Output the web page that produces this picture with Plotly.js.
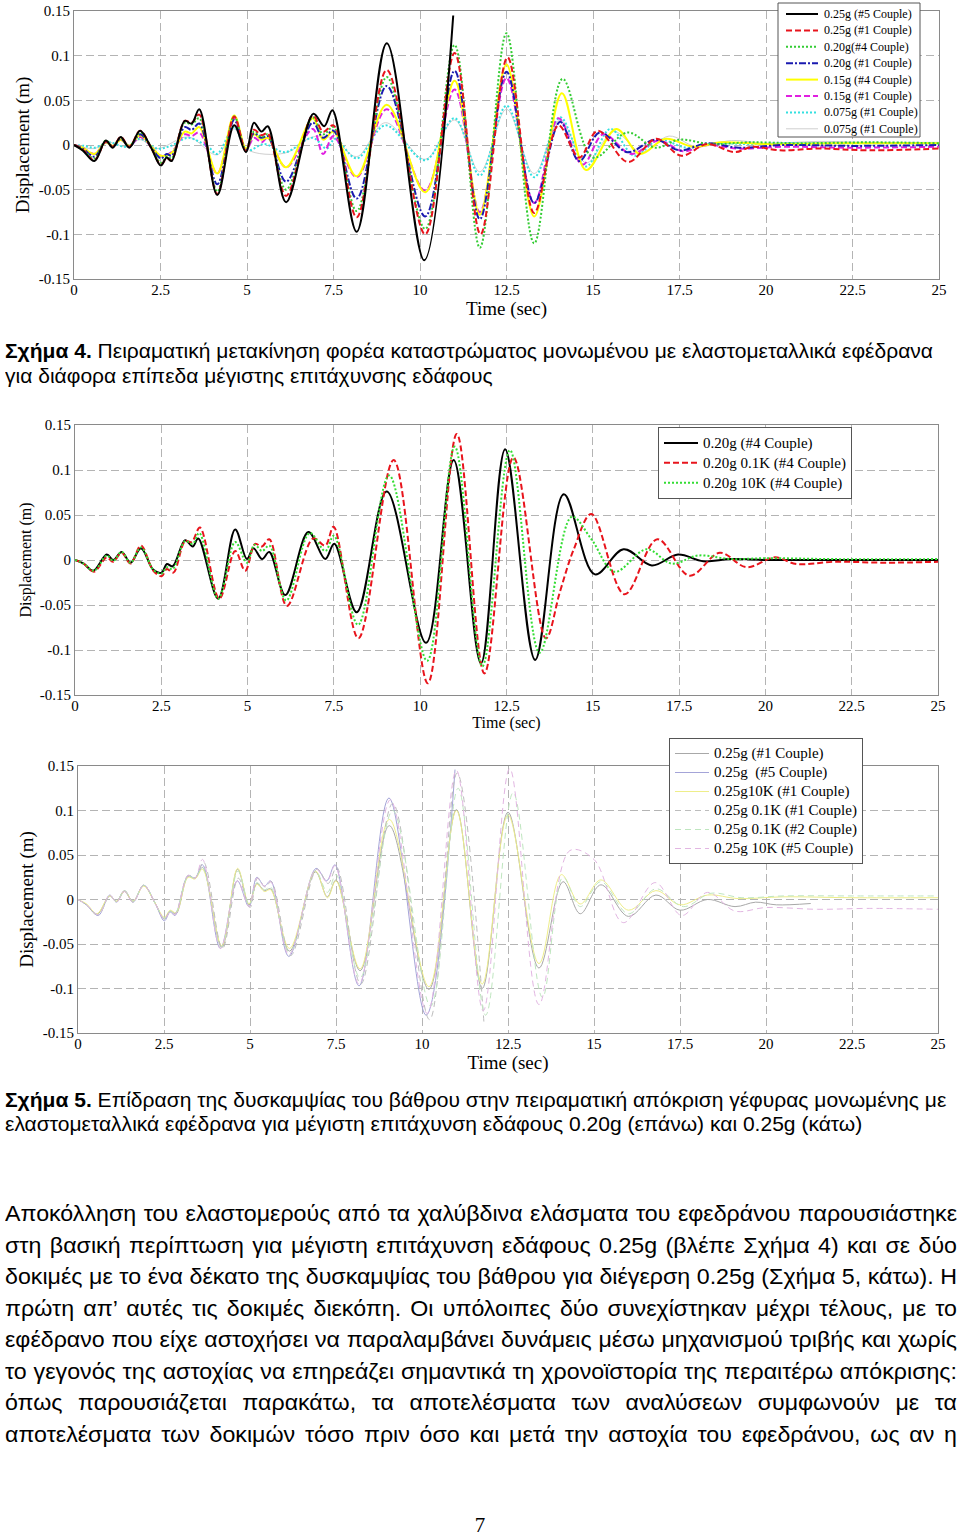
<!DOCTYPE html>
<html><head><meta charset="utf-8">
<script src="https://cdn.plot.ly/plotly-3.0.1.min.js"></script>
<style>
body{margin:0;padding:0;background:#fff;width:960px;height:1537px;overflow:hidden;position:relative;}
#chart{position:absolute;left:0;top:0;width:960px;height:1537px;}
.ln{position:absolute;font-family:"Liberation Sans",Arial,sans-serif;color:#000;white-space:nowrap;transform-origin:0 0;}
.just{text-align:justify;text-align-last:justify;white-space:normal;}
</style></head><body>
<div id="chart"></div>
<div id="texts"></div>
<script>
// ---------- Figure 4 (top) : 0.25g .. 0.075g ----------
const f4_black_t = [0,0.25,0.59,0.92,1.12,1.35,1.6,1.91,2.24,2.51,2.68,2.82,3.2,3.4,3.62,4.14,4.63,4.97,5.2,5.42,5.6,6.13,6.92,7.23,7.47,8.17,9.04,10.12,10.96];
const f4_black_y = [0,-0.006,-0.018,0.005,-0.003,0.009,-0.003,0.016,-0.004,-0.023,-0.014,-0.018,0.027,0.024,0.040,-0.056,0.022,-0.008,0.025,0.015,0.021,-0.064,0.035,0.021,0.039,-0.097,0.114,-0.129,0.145];

const f4_red_t = [0,0.25,0.59,0.92,1.12,1.35,1.6,1.91,2.24,2.51,2.68,2.82,3.2,3.4,3.62,4.14,4.63,4.97,5.2,5.42,5.6,6.13,6.9,7.2,7.5,8.17,9.04,10.15,11.0,11.75,12.53,13.3,14.0,14.6,15.14,16.01,16.83,17.55,18.3,19.1,19.6,20.4,21.5,23,25];
const f4_red_y = [0,-0.005,-0.017,0.004,-0.002,0.009,-0.002,0.016,-0.004,-0.022,-0.015,-0.017,0.027,0.025,0.034,-0.055,0.032,-0.007,0.017,0.011,0.013,-0.057,0.033,0.015,0.022,-0.081,0.084,-0.100,0.103,-0.100,0.098,-0.076,0.022,-0.014,0.016,-0.019,0.007,-0.012,0.001,-0.008,-0.002,-0.006,-0.004,-0.006,-0.004];

const f4_green_t = [0,0.25,0.59,0.92,1.12,1.35,1.6,1.91,2.24,2.51,2.68,2.82,3.2,3.4,3.62,4.14,4.63,4.97,5.2,5.42,5.6,6.13,6.9,7.2,7.5,8.17,9.04,10.15,11.0,11.73,12.5,13.3,14.12,15.0,16.0,16.8,17.5,18.4,19.5,21,23,25];
const f4_green_y = [0,-0.005,-0.015,0.005,-0.002,0.008,-0.002,0.014,-0.003,-0.020,-0.013,-0.015,0.025,0.023,0.030,-0.052,0.032,-0.006,0.015,0.009,0.012,-0.050,0.031,0.012,0.020,-0.074,0.076,-0.094,0.112,-0.115,0.125,-0.110,0.074,-0.014,0.014,-0.003,0.006,0.001,0.003,0.002,0.003,0.002];

const f4_blue_t = [0,0.25,0.59,0.92,1.12,1.35,1.6,1.91,2.24,2.51,2.68,2.82,3.2,3.4,3.62,4.14,4.63,4.97,5.2,5.42,5.6,6.13,6.9,7.2,7.5,8.17,9.04,10.15,11.0,11.73,12.5,13.3,14.05,14.6,15.2,16.0,16.8,17.5,18.3,19.2,20.5,22.5,25];
const f4_blue_y = [0,-0.004,-0.013,0.004,-0.002,0.007,-0.002,0.012,-0.003,-0.015,-0.010,-0.012,0.020,0.017,0.024,-0.044,0.028,-0.006,0.013,0.008,0.010,-0.041,0.025,0.008,0.016,-0.060,0.066,-0.080,0.083,-0.083,0.082,-0.065,0.026,-0.018,0.014,-0.008,0.006,-0.006,0.002,-0.003,0.000,-0.001,0.000];

const f4_yellow_t = [0,0.25,0.59,0.92,1.12,1.35,1.6,1.91,2.24,2.51,2.82,3.2,3.4,3.62,4.14,4.63,4.97,5.2,5.42,5.6,6.13,6.9,7.2,7.5,8.17,9.04,10.15,11.0,11.73,12.5,13.3,14.1,14.8,15.67,16.35,17.1,17.9,18.7,20,22,25];
const f4_yellow_y = [0,-0.003,-0.010,0.003,-0.001,0.006,-0.001,0.011,-0.002,-0.012,-0.009,0.015,0.013,0.020,-0.032,0.033,-0.004,0.012,0.006,0.008,-0.025,0.030,0.006,0.015,-0.035,0.045,-0.053,0.072,-0.078,0.090,-0.080,0.058,-0.028,0.018,-0.010,0.007,-0.002,0.003,0.001,0.002,0.002];

const f4_magenta_t = [0,0.25,0.59,0.92,1.12,1.35,1.6,1.91,2.24,2.51,2.82,3.2,3.4,3.62,4.14,4.63,4.97,5.2,5.42,5.6,6.13,6.9,7.2,7.5,8.17,9.04,10.15,11.0,11.73,12.5,13.3,14.0,14.7,15.3,16.1,16.9,17.6,18.3,19.2,20.5,22.5,25];
const f4_magenta_y = [0,-0.003,-0.010,0.003,-0.001,0.006,-0.001,0.009,-0.002,-0.012,-0.008,0.012,0.010,0.014,-0.032,0.030,-0.006,0.008,0.003,0.008,-0.025,0.018,-0.010,0.010,-0.036,0.040,-0.051,0.062,-0.075,0.075,-0.065,0.030,-0.022,0.012,-0.010,0.005,-0.007,0.000,-0.004,-0.002,-0.003,-0.002];

const f4_cyan_t = [0,0.3,0.59,1.0,1.5,1.91,2.4,2.8,3.3,3.9,4.14,4.63,5.0,5.5,6.1,6.9,7.3,7.55,8.17,9.0,10.15,11.0,11.73,12.5,13.3,14.05,14.8,15.5,16.2,16.9,17.7,18.5,19.5,21,23,25];
const f4_cyan_y = [0,-0.001,-0.003,0.003,-0.002,0.007,-0.004,-0.001,0.008,-0.003,-0.010,0.020,-0.006,0.001,-0.008,0.008,-0.004,0.007,-0.015,0.022,-0.017,0.030,-0.034,0.044,-0.036,0.031,-0.024,0.018,-0.012,0.006,-0.003,0.002,0.001,0.002,0.002,0.002];

const f4_gray_t = [0,0.59,1.0,1.5,1.91,2.4,3.3,4.14,4.63,5.0,6.1,6.9,7.5,8.17,9.0,10.15,11.0,11.73,12.5,13.3,14.05,14.8,15.6,16.4,17.2,18.0,19.0,20,21.5,23,25];
const f4_gray_y = [0,-0.004,0.003,-0.002,0.006,-0.004,0.009,-0.011,0.018,-0.005,-0.009,0.009,0.007,-0.013,0.025,-0.016,0.028,-0.030,0.040,-0.032,0.028,-0.020,0.015,-0.008,0.010,-0.002,0.005,0.002,0.004,0.003,0.003];

const f4_names = ["0.25g (#5 Couple)","0.25g (#1 Couple)","0.20g(#4 Couple)","0.20g (#1 Couple)","0.15g (#4 Couple)","0.15g (#1 Couple)","0.075g (#1 Couple)","0.075g (#1 Couple)"];

// ---------- Figure 5 (middle) : 0.20g stiffness ----------
const f5a_base_t = [0,0.25,0.53,0.92,1.11,1.35,1.61,1.91,2.27,2.51,2.66,2.83,3.19,3.41,3.57,4.15,4.64,4.98,5.17,5.42,5.63,6.09,6.76,7.25,7.51,8.16,9.03,10.17,10.97,11.76,12.46,13.33,14.16,15.06,15.89,16.71,17.47,18.2,19,20,21,22.5,25];
const f5a_base_y = [0,-0.004,-0.012,0.006,0.000,0.009,-0.003,0.013,-0.011,-0.014,-0.0045,-0.007,0.022,0.015,0.024,-0.043,0.034,0.001,0.013,0.001,0.009,-0.039,0.031,0.001,0.018,-0.058,0.076,-0.092,0.111,-0.115,0.123,-0.111,0.073,-0.016,0.012,-0.006,0.006,-0.0015,0.001,0.000,0.000,0.000,0.000];

const f5a_01K_t = [0,0.25,0.55,0.92,1.1,1.35,1.61,1.91,2.27,2.51,2.66,2.85,3.19,3.38,3.62,4.18,4.64,4.93,5.22,5.41,5.63,6.14,6.9,7.25,7.49,8.21,9.23,10.22,11.06,11.86,12.7,13.64,14.05,14.45,14.96,15.92,16.87,17.8,18.68,19.45,20.28,20.9,22,23.5,25];
const f5a_01K_y = [0,-0.004,-0.013,0.003,-0.002,0.008,-0.004,0.016,-0.012,-0.018,-0.010,-0.014,0.021,0.020,0.036,-0.043,0.010,-0.012,0.018,0.015,0.023,-0.051,0.024,0.016,0.037,-0.087,0.111,-0.137,0.140,-0.126,0.114,-0.087,-0.035,0.012,0.051,-0.038,0.023,-0.0175,0.008,-0.008,0.003,-0.0045,-0.002,-0.003,-0.002];

const f5a_10K_t = [0,0.25,0.55,0.92,1.11,1.35,1.61,1.91,2.27,2.51,2.66,2.83,3.19,3.41,3.6,4.15,4.64,4.98,5.2,5.42,5.63,6.12,6.8,7.25,7.5,8.2,9.1,10.2,11.0,11.8,12.6,13.46,14.39,14.96,15.63,16.56,17.28,18.06,19,20,22,25];
const f5a_10K_y = [0,-0.004,-0.012,0.005,-0.001,0.009,-0.003,0.014,-0.011,-0.015,-0.008,-0.010,0.021,0.018,0.030,-0.043,0.020,-0.003,0.017,0.010,0.016,-0.045,0.030,0.010,0.027,-0.072,0.094,-0.112,0.126,-0.118,0.122,-0.103,0.048,0.023,-0.013,0.012,-0.004,0.005,0.001,0.002,0.001,0.001];

const f5a_names = ["0.20g (#4 Couple)","0.20g 0.1K (#4 Couple)","0.20g 10K (#4 Couple)"];

// ---------- Figure 5 (bottom) : 0.25g stiffness ----------
const f5b_c1_t = [0,0.25,0.55,0.92,1.12,1.35,1.6,1.91,2.24,2.51,2.68,2.85,3.2,3.4,3.62,4.18,4.64,4.97,5.2,5.42,5.6,6.15,6.9,7.25,7.5,8.2,9.05,10.2,11.0,11.75,12.5,13.4,14.1,14.6,15.2,16.0,16.8,17.5,18.3,19.1,19.7,20.3,21.3];
const f5b_c1_y = [0,-0.006,-0.017,0.004,-0.002,0.010,-0.002,0.016,-0.004,-0.022,-0.013,-0.016,0.026,0.024,0.036,-0.054,0.034,-0.006,0.018,0.010,0.012,-0.058,0.031,0.003,0.022,-0.080,0.083,-0.101,0.101,-0.100,0.098,-0.077,0.020,-0.016,0.0165,-0.019,0.005,-0.012,0.000,-0.008,-0.003,-0.006,-0.0045];

const f5b_c5_t = [0,0.25,0.59,0.92,1.12,1.35,1.6,1.91,2.24,2.51,2.68,2.82,3.2,3.4,3.62,4.14,4.63,4.97,5.2,5.42,5.6,6.13,6.92,7.23,7.47,8.17,9.04,10.12,10.96];
const f5b_c5_y = [0,-0.006,-0.018,0.005,-0.003,0.009,-0.003,0.016,-0.004,-0.024,-0.014,-0.018,0.027,0.024,0.039,-0.055,0.021,-0.008,0.025,0.015,0.021,-0.064,0.035,0.021,0.039,-0.097,0.114,-0.130,0.146];

const f5b_10K1_t = [0,0.25,0.55,0.92,1.12,1.35,1.6,1.91,2.24,2.51,2.68,2.85,3.2,3.4,3.62,4.18,4.64,4.97,5.2,5.42,5.6,6.15,6.9,7.25,7.5,8.2,9.05,10.2,11.0,11.75,12.5,13.4,14.05,14.6,15.2,16.0,16.8,17.5,18.3,19.2,20.5,22.5,25];
const f5b_10K1_y = [0,-0.005,-0.016,0.004,-0.002,0.009,-0.002,0.015,-0.004,-0.020,-0.012,-0.015,0.025,0.023,0.034,-0.052,0.035,-0.005,0.017,0.009,0.011,-0.055,0.032,0.002,0.021,-0.078,0.090,-0.098,0.100,-0.095,0.095,-0.072,0.028,-0.005,0.022,-0.012,0.010,-0.006,0.005,0.001,0.003,0.002,0.002];

const f5b_01K1_t = [0,0.25,0.59,0.92,1.12,1.35,1.6,1.91,2.24,2.51,2.68,2.82,3.2,3.4,3.65,4.2,4.66,5.0,5.22,5.44,5.62,6.18,6.95,7.27,7.52,8.22,9.15,10.22,11.02,11.8];
const f5b_01K1_y = [0,-0.006,-0.017,0.004,-0.002,0.010,-0.003,0.016,-0.004,-0.022,-0.013,-0.016,0.027,0.024,0.042,-0.055,0.024,-0.009,0.024,0.014,0.020,-0.063,0.034,0.018,0.036,-0.095,0.108,-0.135,0.142,-0.138];

const f5b_01K2_t = [0,0.25,0.59,0.92,1.12,1.35,1.6,1.91,2.24,2.51,2.68,2.82,3.2,3.4,3.62,4.16,4.65,4.98,5.2,5.42,5.6,6.15,6.9,7.25,7.5,8.2,9.15,10.25,11.05,11.85,12.65,13.5,14.1,14.6,15.2,16.0,16.8,17.6,18.4,19.3,20.5,22.5,25];
const f5b_01K2_y = [0,-0.006,-0.017,0.004,-0.002,0.010,-0.002,0.016,-0.004,-0.021,-0.013,-0.016,0.026,0.024,0.036,-0.054,0.032,-0.006,0.019,0.011,0.014,-0.060,0.032,0.008,0.028,-0.088,0.100,-0.120,0.125,-0.130,0.120,-0.110,0.025,-0.008,0.020,-0.016,0.012,-0.008,0.007,0.002,0.004,0.004,0.004];

const f5b_10K5_t = [0,0.25,0.59,0.92,1.12,1.35,1.6,1.91,2.24,2.51,2.68,2.82,3.2,3.4,3.62,4.14,4.63,4.97,5.2,5.42,5.6,6.13,6.92,7.23,7.47,8.17,9.08,10.15,11.0,11.78,12.55,13.4,14.3,15.0,15.85,16.78,17.55,18.3,19.1,20,21.5,23,25];
const f5b_10K5_y = [0,-0.006,-0.017,0.005,-0.003,0.009,-0.003,0.016,-0.004,-0.022,-0.014,-0.017,0.027,0.024,0.045,-0.055,0.021,-0.008,0.024,0.015,0.020,-0.062,0.034,0.020,0.038,-0.095,0.112,-0.128,0.145,-0.125,0.147,-0.118,0.055,0.045,-0.026,0.019,-0.018,0.008,-0.013,-0.009,-0.011,-0.010,-0.011];

const f5b_names = ["0.25g (#1 Couple)","0.25g  (#5 Couple)","0.25g10K (#1 Couple)","0.25g 0.1K (#1 Couple)","0.25g 0.1K (#2 Couple)","0.25g 10K (#5 Couple)"];

// ---------- shared axis ticks and labels ----------
const xTickVals = [0,2.5,5,7.5,10,12.5,15,17.5,20,22.5,25];
const xTickText = ["0","2.5","5","7.5","10","12.5","15","17.5","20","22.5","25"];
const yTickVals = [-0.15,-0.1,-0.05,0,0.05,0.1,0.15];
const yTickText = ["-0.15","-0.1","-0.05","0","0.05","0.1","0.15"];
const xTitle = "Time (sec)";
const yTitle = "Displacement (m)";

// ---------- page text ----------
const cap4 = ["<b>Σχήμα 4.</b> Πειραματική μετακίνηση φορέα καταστρώματος μονωμένου με ελαστομεταλλικά εφέδρανα",
              "για διάφορα επίπεδα μέγιστης επιτάχυνσης εδάφους"];
const cap5 = ["<b>Σχήμα 5.</b> Επίδραση της δυσκαμψίας του βάθρου στην πειραματική απόκριση γέφυρας μονωμένης με",
              "ελαστομεταλλικά εφέδρανα για μέγιστη επιτάχυνση εδάφους 0.20g (επάνω) και 0.25g (κάτω)"];
const para = ["Αποκόλληση του ελαστομερούς από τα χαλύβδινα ελάσματα του εφεδράνου παρουσιάστηκε",
 "στη βασική περίπτωση για μέγιστη επιτάχυνση εδάφους 0.25g (βλέπε Σχήμα 4) και σε δύο",
 "δοκιμές με το ένα δέκατο της δυσκαμψίας του βάθρου για διέγερση 0.25g (Σχήμα 5, κάτω). Η",
 "πρώτη απ’ αυτές τις δοκιμές διεκόπη. Οι υπόλοιπες δύο συνεχίστηκαν μέχρι τέλους, με το",
 "εφέδρανο που είχε αστοχήσει να παραλαμβάνει δυνάμεις μέσω μηχανισμού τριβής και χωρίς",
 "το γεγονός της αστοχίας να επηρεάζει σημαντικά τη χρονοϊστορία της περαιτέρω απόκρισης:",
 "όπως παρουσιάζεται παρακάτω, τα αποτελέσματα των αναλύσεων συμφωνούν με τα",
 "αποτελέσματα των δοκιμών τόσο πριν όσο και μετά την αστοχία του εφεδράνου, ως αν η"];
const pageNum = "7";

// ================= drawing =================
const W = 960, H = 1537;
const px = x => x / W;
const py = y => 1 - y / H;
const SERIF = "Liberation Serif, Times New Roman, serif";

function tr(t, y, ax, name, color, width, dash, legend, show) {
  return {type:'scatter', mode:'lines', x:t, y:y, xaxis:'x'+ax, yaxis:'y'+ax, name:name,
    line:{color:color, width:width, dash:dash, shape:'spline', smoothing:1},
    showlegend:show, legend:legend, hoverinfo:'skip'};
}
const f4style = [
  ['#000000',2,'solid'], ['#e8141c',2,'6px,3px'], ['#33cc33',2,'2px,2px'], ['#1a1ab0',2,'7px,2px,2px,2px'],
  ['#ffff00',2,'solid'], ['#e020e0',2,'6px,3px'], ['#33e0e0',2,'2px,2px'], ['#cfcfcf',1,'solid']
];
const f4data = [[f4_black_t,f4_black_y],[f4_red_t,f4_red_y],[f4_green_t,f4_green_y],[f4_blue_t,f4_blue_y],
  [f4_yellow_t,f4_yellow_y],[f4_magenta_t,f4_magenta_y],[f4_cyan_t,f4_cyan_y],[f4_gray_t,f4_gray_y]];
const traces = [];
for (let i = f4data.length-1; i >= 0; i--) {
  traces.push(tr(f4data[i][0], f4data[i][1], '', f4_names[i], f4style[i][0], f4style[i][1], f4style[i][2], 'legend', false));
}

// legend text drawn at a larger size than the layout font, so entries keep the compact spacing
const big = s => '<span style="font-size:15px">' + s + '</span>';
const f5astyle = [['#000000',2,'solid'],['#e8141c',2,'6px,3px'],['#33dd33',2,'2px,2px']];
const f5adata = [[f5a_base_t,f5a_base_y],[f5a_01K_t,f5a_01K_y],[f5a_10K_t,f5a_10K_y]];
f5adata.forEach((d,i)=>traces.push(tr(d[0], d[1], '2', big(f5a_names[i]), f5astyle[i][0], f5astyle[i][1], f5astyle[i][2], 'legend', true)));

const f5bstyle = [['#a8a8a8',1,'solid'],['#a4a4d8',1,'solid'],['#eeee8a',1,'solid'],
                  ['#bdbdbd',1,'6px,4px'],['#bfe6bf',1,'6px,4px'],['#e2b6e2',1,'6px,4px']];
const f5bdata = [[f5b_c1_t,f5b_c1_y],[f5b_c5_t,f5b_c5_y],[f5b_10K1_t,f5b_10K1_y],
                 [f5b_01K1_t,f5b_01K1_y],[f5b_01K2_t,f5b_01K2_y],[f5b_10K5_t,f5b_10K5_y]];
f5bdata.forEach((d,i)=>traces.push(tr(d[0], d[1], '3', big(f5b_names[i]), f5bstyle[i][0], f5bstyle[i][1], f5bstyle[i][2], 'legend2', true)));

function xax(dom, anchor, tsize) {
  return {domain:dom, anchor:anchor, range:[0,25], tickvals:xTickVals, ticktext:xTickText, ticks:'',
    showgrid:true, gridcolor:'#b4b4b4', griddash:'8px,4px', gridwidth:1, zeroline:false,
    showline:true, mirror:true, linecolor:'#8a8a8a', linewidth:1, ticklabelstandoff:-3,
    tickfont:{family:SERIF, size:15, color:'#000'}, automargin:false,
    title:{text:xTitle, font:{family:SERIF, size:tsize, color:'#000'}, standoff:2}};
}
function yax(dom, anchor, tsize) {
  return {domain:dom, anchor:anchor, range:[-0.15,0.15], tickvals:yTickVals, ticktext:yTickText, ticks:'',
    showgrid:true, gridcolor:'#b4b4b4', griddash:'8px,4px', gridwidth:1, zeroline:false,
    showline:true, mirror:true, linecolor:'#8a8a8a', linewidth:1,
    tickfont:{family:SERIF, size:15, color:'#000'}, automargin:false,
    title:{text:yTitle, font:{family:SERIF, size:tsize, color:'#000'}, standoff:4}};
}
const layout = {
  width:W, height:H, margin:{l:0,r:0,t:0,b:0,pad:0}, paper_bgcolor:'#fff', plot_bgcolor:'#fff',
  showlegend:true,
  xaxis: xax([px(74),px(939)],'y',19),  yaxis: yax([py(279),py(11)],'x',19),
  xaxis2: xax([px(75),px(938)],'y2',16), yaxis2: yax([py(695),py(425)],'x2',16),
  xaxis3: xax([px(78),px(938)],'y3',19), yaxis3: yax([py(1033),py(766)],'x3',19),
  legend:{x:px(658), y:py(427), xanchor:'left', yanchor:'top', bgcolor:'#fff', bordercolor:'#555', borderwidth:1,
    font:{family:SERIF, size:13, color:'#000'}, tracegroupgap:0, itemwidth:34},
  legend2:{x:px(669), y:py(738), xanchor:'left', yanchor:'top', bgcolor:'#fff', bordercolor:'#555', borderwidth:1,
    font:{family:SERIF, size:12, color:'#000'}, tracegroupgap:0, itemwidth:34},
  shapes:[], annotations:[]
};
// compact legend for the top chart
layout.shapes.push({type:'rect', xref:'paper', yref:'paper', x0:px(778), x1:px(920), y0:py(137), y1:py(3),
  line:{color:'#555', width:1}, fillcolor:'#fff', layer:'above'});
f4_names.forEach((n,i)=>{
  const yy = 14 + i*16.4;
  layout.shapes.push({type:'line', xref:'paper', yref:'paper', x0:px(786), x1:px(818), y0:py(yy), y1:py(yy),
    line:{color:f4style[i][0], width:f4style[i][1], dash:f4style[i][2]}, layer:'above'});
  layout.annotations.push({xref:'paper', yref:'paper', x:px(822), y:py(yy), xanchor:'left', yanchor:'middle',
    text:n, showarrow:false, font:{family:SERIF, size:12, color:'#000'}});
});

Plotly.newPlot('chart', traces, layout, {staticPlot:true, displayModeBar:false});

// ---------- HTML text (captions, paragraph, page number) ----------
const box = document.getElementById('texts');
function mkLine(html, size) {
  const d = document.createElement('div');
  d.className = 'ln';
  d.innerHTML = html;
  d.style.fontSize = size + 'px';
  d.style.lineHeight = Math.round(size*1.25) + 'px';
  box.appendChild(d);
  return d;
}
function natW(html, size) { const d = mkLine(html, size); const w = d.getBoundingClientRect().width; box.removeChild(d); return w; }
function place(d, left, centerY, size, sx) {
  d.style.left = left + 'px';
  d.style.top = (centerY - size*0.625) + 'px';
  d.style.transform = 'scaleX(' + sx + ')';
}
// captions: scaled to the first caption line width (5 -> 933 px)
const CAP = 21;
const capS = 928 / natW(cap4[0], CAP);
[[cap4[0],351],[cap4[1],376],[cap5[0],1100],[cap5[1],1124]].forEach(([s,y])=>place(mkLine(s, CAP), 5, y, CAP, capS));
// paragraph: justified lines 5 -> 957 px
const PS = 22.5;
let maxW = 0; para.forEach(s=>{ maxW = Math.max(maxW, natW(s, PS)); });
const paraS = 950 / maxW;
const paraY = [1214,1246,1277,1309,1340,1372,1403,1435];
para.forEach((s,i)=>{ const d = mkLine(s, PS); d.classList.add('just'); d.style.width = (952/paraS) + 'px'; place(d, 5, paraY[i], PS, paraS); });
const pn = mkLine(pageNum, 21); pn.style.width = '960px'; pn.style.textAlign = 'center'; pn.style.fontFamily = SERIF;
place(pn, 0, 1525, 21, 1);
</script></body></html>
